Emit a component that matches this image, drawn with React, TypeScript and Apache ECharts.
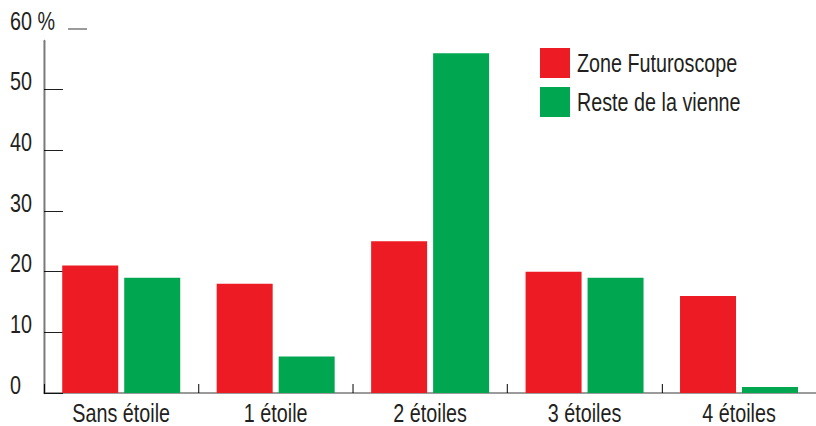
import React, { useEffect, useRef } from "react";
import * as echarts from "echarts";

const categories = ["Sans étoile", "1 étoile", "2 étoiles", "3 étoiles", "4 étoiles"];
const seriesNames = ["Zone Futuroscope", "Reste de la vienne"];
const zoneFuturoscope = [21, 18, 25, 20, 16];
const resteVienne = [19, 6, 56, 19, 1];
const yTickValues = [0, 10, 20, 30, 40, 50];
const yTopLabel = 60;
const yAxisTop = 58;

// Horizontal condensing factor (the reference uses a narrow typeface)
const S = 0.76;
const W = 816 / S;
const H = 426;

const FONT = "'Liberation Sans', Arial, sans-serif";
const FS = 26;
const TEXT = "#231f20";
const RED = "#ed1c24";
const GREEN = "#00a650";
const GREY = "#7a7a7a";

export default function App() {
  const ref = useRef<HTMLDivElement>(null);
  useEffect(() => {
    if (!ref.current) return;
    const chart = echarts.init(ref.current, null, { renderer: "svg" });
    const gridLeft = 44 / S;
    chart.setOption({
      animation: false,
      backgroundColor: "#ffffff",
      textStyle: { fontFamily: FONT },
      grid: { left: gridLeft, right: -3 / S, top: 41.13, bottom: 33, containLabel: false },
      legend: {
        orient: "vertical",
        left: 540 / S,
        top: 48,
        padding: 0,
        itemWidth: 30 / S,
        itemHeight: 30,
        itemGap: 9,
        icon: "rect",
        selectedMode: false,
        data: seriesNames,
        textStyle: { fontFamily: FONT, fontSize: FS, color: TEXT, padding: [0, 0, 0, 7 / S - 5] },
      },
      xAxis: {
        type: "category",
        data: categories,
        axisLine: { show: true, lineStyle: { color: GREY, width: 1.5 } },
        axisTick: { show: true, inside: true, length: 9, lineStyle: { color: "#000", width: 1 / S } },
        axisLabel: { fontFamily: FONT, fontSize: FS, lineHeight: 25, color: TEXT, margin: 7 },
        splitLine: { show: false },
      },
      yAxis: {
        type: "value",
        min: 0,
        max: yAxisTop,
        interval: 10,
        axisLine: { show: true, lineStyle: { color: GREY, width: 2 / S } },
        axisTick: {
          show: true,
          inside: true,
          length: 19 / S,
          customValues: yTickValues,
          lineStyle: { color: "#000", width: 1 },
        },
        splitLine: { show: false },
        axisLabel: {
          fontFamily: FONT,
          fontSize: FS,
          color: TEXT,
          align: "left",
          margin: (44 - 10) / S,
          verticalAlign: "bottom",
          lineHeight: 17,
          customValues: yTickValues,
        },
      },
      series: [
        {
          name: seriesNames[0],
          type: "bar",
          data: zoneFuturoscope,
          barWidth: 56 / S,
          barGap: "10.7%",
          itemStyle: { color: RED },
        },
        {
          name: seriesNames[1],
          type: "bar",
          data: resteVienne,
          barWidth: 56 / S,
          barGap: "10.7%",
          itemStyle: { color: GREEN },
        },
      ],
    });

    const y60 = chart.convertToPixel({ yAxisIndex: 0 }, yTopLabel) as number;
    chart.setOption({
      graphic: [
        {
          type: "rect",
          id: "tick60",
          shape: { x: 68 / S, y: y60 - 0.75, width: 19 / S, height: 1.5 },
          style: { fill: GREY },
          z: 10,
        },
        {
          type: "text",
          id: "label60",
          x: 10 / S,
          y: y60 - 8.5,
          style: {
            text: yTopLabel + " %",
            fontFamily: FONT,
            fontSize: FS,
            fill: TEXT,
            align: "left",
            verticalAlign: "middle",
          },
          z: 10,
        },
      ],
    });

    return () => chart.dispose();
  }, []);
  return (
    <div style={{ position: "fixed", left: 0, top: 0, width: 816, height: H, overflow: "hidden", background: "#fff" }}>
      <div
        ref={ref}
        style={{ width: W, height: H, transform: `scaleX(${S})`, transformOrigin: "0 0" }}
      />
    </div>
  );
}
